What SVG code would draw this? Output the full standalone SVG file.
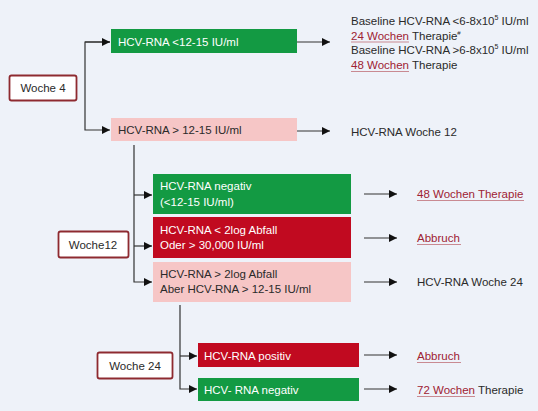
<svg xmlns="http://www.w3.org/2000/svg" width="538" height="411" viewBox="0 0 538 411">
<style>
text{font-family:"Liberation Sans",Arial,sans-serif;font-size:11.5px;fill:#2a2a2a}
.w{fill:#ffffff}
.lab{fill:#fff;stroke:#8e2a30;stroke-width:1.8}
.g{fill:#139a43}
.r{fill:#c10a20}
.p{fill:#f6c6c6}
.ln{fill:none;stroke:#333;stroke-width:1.2}
.lk{fill:#9e2233}
.u{stroke:#c98a92;stroke-width:1}
</style>
<defs>
<marker id="ah" markerWidth="8" markerHeight="8" refX="8" refY="4" orient="auto" markerUnits="userSpaceOnUse">
<path d="M0,0 L8,4 L0,8 Z" fill="#111"/>
</marker>
</defs>
<rect width="538" height="411" fill="#eef2f9"/>

<g id="woche4"><rect class="lab" x="9.5" y="75.5" width="67" height="25" rx="2"/><text x="43" y="92" text-anchor="middle">Woche 4</text></g>
<g id="n1"><rect class="g" x="111" y="29" width="186" height="24"/><text class="w" x="118" y="46">HCV-RNA &lt;12-15 IU/ml</text></g>
<g id="n2"><rect class="p" x="111" y="118" width="186" height="23"/><text x="118" y="134">HCV-RNA &gt; 12-15 IU/ml</text></g>
<g id="t1">
<text x="351" y="25">Baseline HCV-RNA &lt;6-8x10<tspan font-size="7" dy="-5">5</tspan><tspan dy="5"> IU/ml</tspan></text>
<text x="351" y="39.5"><tspan class="lk">24 Wochen</tspan> Therapie<tspan font-size="6" dy="-5">#</tspan></text>
<line class="u" x1="351" y1="42" x2="409" y2="42"/>
<text x="351" y="54">Baseline HCV-RNA &gt;6-8x10<tspan font-size="7" dy="-5">5</tspan><tspan dy="5"> IU/ml</tspan></text>
<text x="351" y="69"><tspan class="lk">48 Wochen</tspan> Therapie</text>
<line class="u" x1="351" y1="71.5" x2="409" y2="71.5"/>
</g>
<g id="t2"><text x="351" y="136">HCV-RNA Woche 12</text></g>

<g id="woche12"><rect class="lab" x="58.5" y="231.5" width="70" height="26" rx="2"/><text x="93" y="249" text-anchor="middle">Woche12</text></g>
<g id="n3"><rect class="g" x="153" y="174" width="198" height="40"/><text class="w" x="160" y="190">HCV-RNA negativ</text><text class="w" x="160" y="206">(&lt;12-15 IU/ml)</text></g>
<g id="n4"><rect class="r" x="153" y="217" width="198" height="41"/><text class="w" x="160" y="234">HCV-RNA &lt; 2log Abfall</text><text class="w" x="160" y="249">Oder &gt; 30,000 IU/ml</text></g>
<g id="n5"><rect class="p" x="153" y="262" width="198" height="40"/><text x="160" y="278">HCV-RNA &gt; 2log Abfall</text><text x="160" y="293">Aber HCV-RNA &gt; 12-15 IU/ml</text></g>
<g id="t3"><text class="lk" x="417" y="198">48 Wochen Therapie</text><line class="u" x1="417" y1="200.5" x2="524" y2="200.5"/></g>
<g id="t4"><text class="lk" x="417" y="242">Abbruch</text><line class="u" x1="417" y1="244.5" x2="461" y2="244.5"/></g>
<g id="t5"><text x="417" y="286">HCV-RNA Woche 24</text></g>

<g id="woche24"><rect class="lab" x="97.5" y="352.5" width="75" height="26" rx="2"/><text x="135" y="370" text-anchor="middle">Woche 24</text></g>
<g id="n6"><rect class="r" x="198" y="343" width="161" height="24"/><text class="w" x="204" y="360">HCV-RNA positiv</text></g>
<g id="n7"><rect class="g" x="198" y="378" width="161" height="23"/><text class="w" x="204" y="394">HCV- RNA negativ</text></g>
<g id="t6"><text class="lk" x="417" y="360">Abbruch</text><line class="u" x1="417" y1="362.5" x2="461" y2="362.5"/></g>
<g id="t7"><text x="417" y="394"><tspan class="lk">72 Wochen</tspan> Therapie</text><line class="u" x1="417" y1="396.5" x2="475" y2="396.5"/></g>

<g id="connectors">
<path class="ln" d="M110,42 H85 V130 H110" marker-end="url(#ah)"/>
<path class="ln" d="M85,42 H110" marker-end="url(#ah)"/>
<path class="ln" d="M297,42 H330" marker-end="url(#ah)"/>
<path class="ln" d="M297,131 H330" marker-end="url(#ah)"/>
<path class="ln" d="M134,145 V282 H152" marker-end="url(#ah)"/>
<path class="ln" d="M134,195 H152" marker-end="url(#ah)"/>
<path class="ln" d="M134,246 H152" marker-end="url(#ah)"/>
<path class="ln" d="M364,194 H397" marker-end="url(#ah)"/>
<path class="ln" d="M364,238 H397" marker-end="url(#ah)"/>
<path class="ln" d="M364,282 H397" marker-end="url(#ah)"/>
<path class="ln" d="M180,305 V389 H197" marker-end="url(#ah)"/>
<path class="ln" d="M180,356 H197" marker-end="url(#ah)"/>
<path class="ln" d="M364,355 H397" marker-end="url(#ah)"/>
<path class="ln" d="M364,389 H397" marker-end="url(#ah)"/>
</g>
</svg>
